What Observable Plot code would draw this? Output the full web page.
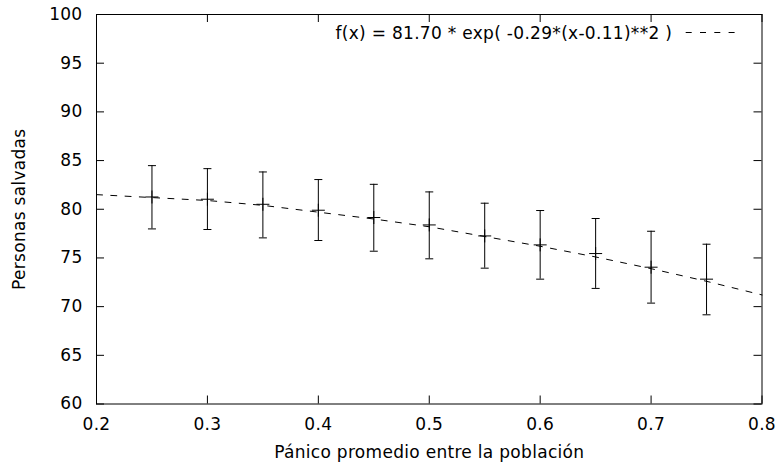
<!DOCTYPE html>
<html>
<head>
<meta charset="utf-8">
<script src="https://cdn.jsdelivr.net/npm/d3@7"></script>
<script src="https://cdn.jsdelivr.net/npm/@observablehq/plot@0.6"></script>
<style>
html, body { margin: 0; padding: 0; background: #fff; }
#chart svg { display: block; }
#chart svg text { letter-spacing: 0.3px; }
</style>
</head>
<body>
<div id="chart"></div>
<script>
// ---- data ----
const panic     = [0.25, 0.30, 0.35, 0.40, 0.45, 0.50, 0.55, 0.60, 0.65, 0.70, 0.75];
const saved     = [81.26, 81.03, 80.51, 79.90, 79.15, 78.39, 77.26, 76.34, 75.45, 74.05, 72.82];
const savedLow  = [77.98, 77.92, 77.06, 76.79, 75.69, 74.91, 73.95, 72.82, 71.87, 70.36, 69.16];
const savedHigh = [84.48, 84.17, 83.83, 83.05, 82.56, 81.78, 80.62, 79.87, 79.05, 77.74, 76.41];

const fitX = [0.20, 0.25, 0.30, 0.35, 0.40, 0.45, 0.50, 0.55, 0.60, 0.65, 0.70, 0.75, 0.80];
const fitY = [81.5, 81.2, 80.9, 80.4, 79.7, 79.0, 78.2, 77.2, 76.2, 75.1, 73.9, 72.6, 71.2];

const xTicks = [0.2, 0.3, 0.4, 0.5, 0.6, 0.7, 0.8];
const xTickLabels = ["0.2", "0.3", "0.4", "0.5", "0.6", "0.7", "0.8"];
const yTicks = [60, 65, 70, 75, 80, 85, 90, 95, 100];
const yTickLabels = ["60", "65", "70", "75", "80", "85", "90", "95", "100"];

const fitLabel = "f(x) = 81.70 * exp( -0.29*(x-0.11)**2 )";
const xLabel = "Pánico promedio entre la población";
const yLabel = "Personas salvadas";

// ---- layout ----
const W = 779, H = 465;
const mL = 96, mR = 17.5, mT = 14, mB = 61.5;
const innerW = W - mL - mR, innerH = H - mT - mB;
const tickLen = 8;
const FS = 17;

const points = panic.map((x, i) => ({x, y: saved[i], lo: savedLow[i], hi: savedHigh[i]}));
const fit = fitX.map((x, i) => ({x, y: fitY[i]}));

const hline = {
  draw(ctx, size) {
    const r = Math.sqrt(size / Math.PI);
    ctx.moveTo(-r, 0); ctx.lineTo(r, 0);
  }
};
const plus = {
  draw(ctx, size) {
    const r = Math.sqrt(size / Math.PI);
    ctx.moveTo(-r, 0); ctx.lineTo(r, 0);
    ctx.moveTo(0, -r); ctx.lineTo(0, r);
  }
};

const legendSample = (index, scales, values, dims) => {
  const g = d3.create("svg:g");
  const xr = dims.width - dims.marginRight;
  g.append("line")
    .attr("x1", xr - 75.8).attr("x2", xr - 26.8)
    .attr("y1", dims.marginTop + 18.5).attr("y2", dims.marginTop + 18.5)
    .attr("stroke", "black").attr("stroke-width", 1)
    .attr("stroke-dasharray", "6,8.3");
  return g.node();
};

const chart = Plot.plot({
  width: W,
  height: H,
  marginLeft: mL,
  marginRight: mR,
  marginTop: mT,
  marginBottom: mB,
  style: {fontFamily: "'DejaVu Sans', sans-serif", fontSize: FS + "px", color: "black", background: "white"},
  x: {domain: [0.2, 0.8]},
  y: {domain: [60, 100]},
  marks: [
    Plot.frame({stroke: "black", strokeWidth: 1}),
    // inward ticks
    Plot.tickX(xTicks, {x: d => d, insetTop: innerH - tickLen, stroke: "black"}),
    Plot.tickX(xTicks, {x: d => d, insetBottom: innerH - tickLen, stroke: "black"}),
    Plot.tickY(yTicks, {y: d => d, insetRight: innerW - tickLen, stroke: "black"}),
    Plot.tickY(yTicks, {y: d => d, insetLeft: innerW - tickLen, stroke: "black"}),
    Plot.axisX(xTicks, {tickSize: 0, tickPadding: 14, tickFormat: (d, i) => xTickLabels[i], label: null, fontSize: FS}),
    Plot.axisY(yTicks, {tickSize: 0, tickPadding: 14, tickFormat: (d, i) => yTickLabels[i], label: null, fontSize: FS}),
    // fitted curve
    Plot.line(fit, {x: "x", y: "y", stroke: "black", strokeWidth: 1, strokeDasharray: "6,8.3"}),
    // error bars
    Plot.ruleX(points, {x: "x", y1: "lo", y2: "hi", stroke: "black", strokeWidth: 1}),
    Plot.dot(points, {x: "x", y: "hi", symbol: hline, r: 4, stroke: "black", fill: "none", strokeWidth: 1}),
    Plot.dot(points, {x: "x", y: "lo", symbol: hline, r: 4, stroke: "black", fill: "none", strokeWidth: 1}),
    Plot.dot(points, {x: "x", y: "y", symbol: plus, r: 6.5, stroke: "black", fill: "none", strokeWidth: 1}),
    // legend
    Plot.text([fitLabel], {frameAnchor: "top-right", textAnchor: "end", lineAnchor: "middle", dx: -89.8, dy: 19, fontSize: FS, fill: "black"}),
    legendSample,
    // axis titles
    Plot.text([xLabel], {frameAnchor: "bottom", textAnchor: "middle", lineAnchor: "middle", dy: 48.5, fontSize: FS, fill: "black"}),
    Plot.text([yLabel], {frameAnchor: "left", textAnchor: "middle", lineAnchor: "middle", dx: -77, rotate: -90, fontSize: FS, fill: "black"})
  ]
});
document.getElementById("chart").appendChild(chart);
</script>
</body>
</html>
